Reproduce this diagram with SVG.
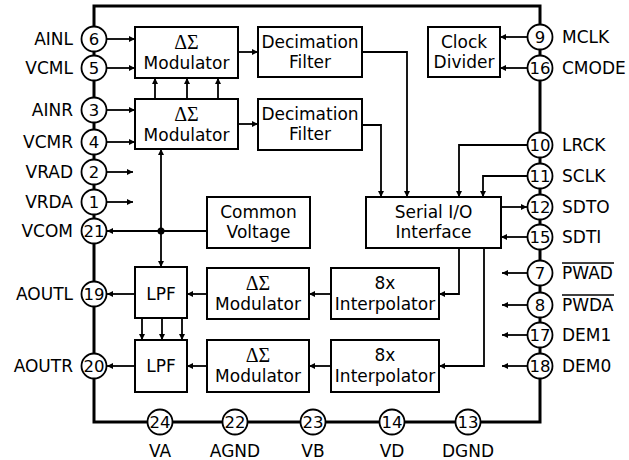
<svg xmlns="http://www.w3.org/2000/svg" width="629" height="460" viewBox="0 0 629 460">
<defs>
<marker id="ah" viewBox="0 0 10 10" refX="10" refY="5" markerWidth="9" markerHeight="6" markerUnits="userSpaceOnUse" orient="auto"><path d="M0,0 L10,5 L0,10 z" fill="#000"/></marker>
<style>
.blk{fill:#fff;stroke:#000;stroke-width:2}
.pin{fill:#fff;stroke:#000;stroke-width:1.8}
.t{font-family:"DejaVu Sans",sans-serif;font-size:17px;fill:#000;text-anchor:middle}
.ds{font-family:"Liberation Serif",serif;font-size:20px;fill:#000;text-anchor:middle}
.pn{font-family:"DejaVu Sans",sans-serif;font-size:16.5px;fill:#000;text-anchor:middle}
.lbl{font-family:"DejaVu Sans",sans-serif;font-size:17px;fill:#000}
.c{fill:none;stroke:#000;stroke-width:1.8}
.a{fill:none;stroke:#000;stroke-width:1.8;marker-end:url(#ah)}
</style>
</defs>
<rect width="629" height="460" fill="#fff"/>
<rect id="chip" x="94" y="6" width="446" height="416" fill="none" stroke="#000" stroke-width="3"/>

<g id="connectors">
<line class="a" x1="106" y1="39" x2="135" y2="39"/>
<line class="a" x1="106" y1="68" x2="135" y2="68"/>
<line class="a" x1="106" y1="110" x2="135" y2="110"/>
<line class="a" x1="106" y1="142" x2="135" y2="142"/>
<line class="a" x1="106" y1="172" x2="133" y2="172"/>
<line class="a" x1="106" y1="202" x2="133" y2="202"/>
<line class="a" x1="238" y1="52" x2="258" y2="52"/>
<line class="a" x1="238" y1="124" x2="258" y2="124"/>
<line class="a" x1="155" y1="99" x2="155" y2="78"/>
<line class="a" x1="187" y1="99" x2="187" y2="78"/>
<line class="a" x1="218" y1="99" x2="218" y2="78"/>
<line class="a" x1="161" y1="231" x2="161" y2="149"/>
<line class="a" x1="161" y1="231" x2="161" y2="267"/>
<line class="a" x1="207" y1="231" x2="107" y2="231"/>
<circle cx="161" cy="231" r="3.5" fill="#000"/>
<polyline class="a" points="362,52 407,52 407,197"/>
<polyline class="a" points="362,125 381,125 381,197"/>
<polyline class="a" points="528,145 459,145 459,197"/>
<polyline class="a" points="528,176 483,176 483,197"/>
<line class="a" x1="501" y1="207" x2="527" y2="207"/>
<line class="a" x1="528" y1="237" x2="501" y2="237"/>
<line class="a" x1="528" y1="37" x2="500" y2="37"/>
<line class="a" x1="528" y1="68" x2="500" y2="68"/>
<line class="a" x1="528" y1="273" x2="502" y2="273"/>
<line class="a" x1="528" y1="305" x2="502" y2="305"/>
<line class="a" x1="528" y1="335" x2="502" y2="335"/>
<line class="a" x1="528" y1="366" x2="502" y2="366"/>
<polyline class="a" points="459,248 459,294 439,294"/>
<polyline class="a" points="484,248 484,366 439,366"/>
<line class="a" x1="331" y1="294" x2="309" y2="294"/>
<line class="a" x1="207" y1="294" x2="187" y2="294"/>
<line class="a" x1="135" y1="294" x2="107" y2="294"/>
<line class="a" x1="331" y1="366" x2="309" y2="366"/>
<line class="a" x1="207" y1="366" x2="187" y2="366"/>
<line class="a" x1="135" y1="366" x2="107" y2="366"/>
<line class="a" x1="142" y1="318" x2="142" y2="340"/>
<line class="a" x1="162" y1="318" x2="162" y2="340"/>
<line class="a" x1="182" y1="318" x2="182" y2="340"/>
</g>

<g id="adc-mod-l"><rect class="blk" x="135" y="27" width="103" height="51"/><text class="ds" x="186.5" y="49">ΔΣ</text><text class="t" x="186.5" y="69">Modulator</text></g>
<g id="adc-mod-r"><rect class="blk" x="135" y="99" width="103" height="50"/><text class="ds" x="186.5" y="121">ΔΣ</text><text class="t" x="186.5" y="141">Modulator</text></g>
<g id="dec-l"><rect class="blk" x="258" y="27" width="104" height="50"/><text class="t" x="310" y="48">Decimation</text><text class="t" x="310" y="68">Filter</text></g>
<g id="dec-r"><rect class="blk" x="258" y="99" width="104" height="51"/><text class="t" x="310" y="120">Decimation</text><text class="t" x="310" y="140">Filter</text></g>
<g id="clkdiv"><rect class="blk" x="428" y="27" width="72" height="50"/><text class="t" x="464" y="48">Clock</text><text class="t" x="464" y="68">Divider</text></g>
<g id="common"><rect class="blk" x="207" y="197" width="103" height="51"/><text class="t" x="258.5" y="218">Common</text><text class="t" x="258.5" y="238">Voltage</text></g>
<g id="serial"><rect class="blk" x="366" y="197" width="135" height="51"/><text class="t" x="433.5" y="218">Serial I/O</text><text class="t" x="433.5" y="238">Interface</text></g>
<g id="lpf-l"><rect class="blk" x="135" y="267" width="52" height="51"/><text class="t" x="161" y="300">LPF</text></g>
<g id="lpf-r"><rect class="blk" x="135" y="340" width="52" height="52"/><text class="t" x="161" y="372">LPF</text></g>
<g id="dac-mod-l"><rect class="blk" x="207" y="268" width="102" height="51"/><text class="ds" x="258" y="290">ΔΣ</text><text class="t" x="258" y="310">Modulator</text></g>
<g id="dac-mod-r"><rect class="blk" x="207" y="340" width="102" height="52"/><text class="ds" x="258" y="362">ΔΣ</text><text class="t" x="258" y="382">Modulator</text></g>
<g id="interp-l"><rect class="blk" x="331" y="268" width="108" height="51"/><text class="t" x="385" y="289">8x</text><text class="t" x="385" y="310">Interpolator</text></g>
<g id="interp-r"><rect class="blk" x="331" y="340" width="108" height="52"/><text class="t" x="385" y="361">8x</text><text class="t" x="385" y="382">Interpolator</text></g>

<g id="pin6"><circle class="pin" cx="94" cy="39" r="12.5"/><text class="pn" x="94" y="45">6</text><text class="lbl" x="73" y="45" text-anchor="end">AINL</text></g>
<g id="pin5"><circle class="pin" cx="94" cy="68" r="12.5"/><text class="pn" x="94" y="74">5</text><text class="lbl" x="73" y="74" text-anchor="end">VCML</text></g>
<g id="pin3"><circle class="pin" cx="94" cy="110" r="12.5"/><text class="pn" x="94" y="116">3</text><text class="lbl" x="73" y="116" text-anchor="end">AINR</text></g>
<g id="pin4"><circle class="pin" cx="94" cy="142" r="12.5"/><text class="pn" x="94" y="148">4</text><text class="lbl" x="73" y="148" text-anchor="end">VCMR</text></g>
<g id="pin2"><circle class="pin" cx="94" cy="172" r="12.5"/><text class="pn" x="94" y="178">2</text><text class="lbl" x="73" y="178" text-anchor="end">VRAD</text></g>
<g id="pin1"><circle class="pin" cx="94" cy="202" r="12.5"/><text class="pn" x="94" y="208">1</text><text class="lbl" x="73" y="208" text-anchor="end">VRDA</text></g>
<g id="pin21"><circle class="pin" cx="94" cy="231" r="12.5"/><text class="pn" x="94" y="237">21</text><text class="lbl" x="73" y="237" text-anchor="end">VCOM</text></g>
<g id="pin19"><circle class="pin" cx="94" cy="294" r="12.5"/><text class="pn" x="94" y="300">19</text><text class="lbl" x="73" y="300" text-anchor="end">AOUTL</text></g>
<g id="pin20"><circle class="pin" cx="94" cy="366" r="12.5"/><text class="pn" x="94" y="372">20</text><text class="lbl" x="73" y="372" text-anchor="end">AOUTR</text></g>

<g id="pin9"><circle class="pin" cx="540" cy="37" r="12.5"/><text class="pn" x="540" y="43">9</text><text class="lbl" x="562" y="43">MCLK</text></g>
<g id="pin16"><circle class="pin" cx="540" cy="68" r="12.5"/><text class="pn" x="540" y="74">16</text><text class="lbl" x="562" y="74">CMODE</text></g>
<g id="pin10"><circle class="pin" cx="540" cy="145" r="12.5"/><text class="pn" x="540" y="151">10</text><text class="lbl" x="562" y="151">LRCK</text></g>
<g id="pin11"><circle class="pin" cx="540" cy="176" r="12.5"/><text class="pn" x="540" y="182">11</text><text class="lbl" x="562" y="182">SCLK</text></g>
<g id="pin12"><circle class="pin" cx="540" cy="207" r="12.5"/><text class="pn" x="540" y="213">12</text><text class="lbl" x="562" y="213">SDTO</text></g>
<g id="pin15"><circle class="pin" cx="540" cy="237" r="12.5"/><text class="pn" x="540" y="243">15</text><text class="lbl" x="562" y="243">SDTI</text></g>
<g id="pin7"><circle class="pin" cx="540" cy="273" r="12.5"/><text class="pn" x="540" y="279">7</text><text class="lbl" x="562" y="279">PWAD</text><line x1="562" y1="263" x2="614" y2="263" stroke="#000" stroke-width="1.3"/></g>
<g id="pin8"><circle class="pin" cx="540" cy="305" r="12.5"/><text class="pn" x="540" y="311">8</text><text class="lbl" x="562" y="311">PWDA</text><line x1="562" y1="295" x2="614" y2="295" stroke="#000" stroke-width="1.3"/></g>
<g id="pin17"><circle class="pin" cx="540" cy="335" r="12.5"/><text class="pn" x="540" y="341">17</text><text class="lbl" x="562" y="341">DEM1</text></g>
<g id="pin18"><circle class="pin" cx="540" cy="366" r="12.5"/><text class="pn" x="540" y="372">18</text><text class="lbl" x="562" y="372">DEM0</text></g>

<g id="pin24"><circle class="pin" cx="160" cy="422" r="12.5"/><text class="pn" x="160" y="428">24</text><text class="lbl" x="160" y="457" text-anchor="middle">VA</text></g>
<g id="pin22"><circle class="pin" cx="235" cy="422" r="12.5"/><text class="pn" x="235" y="428">22</text><text class="lbl" x="235" y="457" text-anchor="middle">AGND</text></g>
<g id="pin23"><circle class="pin" cx="313" cy="422" r="12.5"/><text class="pn" x="313" y="428">23</text><text class="lbl" x="313" y="457" text-anchor="middle">VB</text></g>
<g id="pin14"><circle class="pin" cx="392" cy="422" r="12.5"/><text class="pn" x="392" y="428">14</text><text class="lbl" x="392" y="457" text-anchor="middle">VD</text></g>
<g id="pin13"><circle class="pin" cx="468" cy="422" r="12.5"/><text class="pn" x="468" y="428">13</text><text class="lbl" x="468" y="457" text-anchor="middle">DGND</text></g>
</svg>
